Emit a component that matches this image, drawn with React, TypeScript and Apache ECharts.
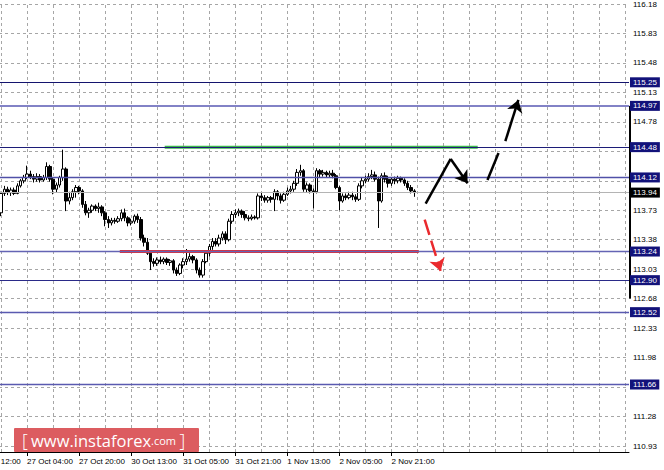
import React, { useEffect, useRef } from "react";
import * as echarts from "echarts";

// ---- data ----
const firstBar = 8; // category index of the first visible candle
const opens = [
  113.70, 113.93, 113.98, 113.94, 113.97, 113.93, 114.02, 114.08, 114.12, 114.16,
  114.13, 114.10, 114.13, 114.09, 114.12, 114.25, 114.10, 113.98, 114.03, 114.12,
  114.22, 113.84, 113.88, 113.95, 114.00, 113.96, 113.80, 113.70, 113.73, 113.78,
  113.75, 113.77, 113.70, 113.62, 113.58, 113.61, 113.60, 113.63, 113.70, 113.64,
  113.58, 113.60, 113.66, 113.62, 113.40, 113.35, 113.22, 113.12, 113.10, 113.14,
  113.12, 113.15, 113.11, 113.13, 113.02, 112.98, 113.08, 113.12, 113.15, 113.18,
  113.14, 113.02, 112.96, 113.12, 113.22, 113.30, 113.36, 113.33, 113.40, 113.45,
  113.38, 113.60, 113.68, 113.70, 113.72, 113.68, 113.64, 113.63, 113.65, 113.64,
  113.90, 113.88, 113.85, 113.88, 113.86, 113.95, 113.90, 113.85, 113.92, 113.96,
  113.98, 114.05, 114.18, 114.20, 113.98, 114.03, 113.96, 113.95, 114.20, 114.16,
  114.18, 114.15, 114.17, 114.14, 114.00, 113.84, 113.90, 113.88, 113.91, 113.89,
  113.86, 114.02, 114.08, 114.10, 114.13, 114.15, 114.10, 113.84, 114.14, 114.10,
  114.05, 114.10, 114.08, 114.11, 114.09, 114.05, 114.00, 113.96,
];
const highs = [
  113.95, 114.02, 114.01, 114.00, 114.00, 114.05, 114.10, 114.15, 114.26, 114.20,
  114.16, 114.17, 114.16, 114.15, 114.30, 114.27, 114.12, 114.06, 114.14, 114.45,
  114.24, 113.95, 113.98, 114.03, 114.02, 113.98, 113.84, 113.76, 113.80, 113.80,
  113.82, 113.79, 113.72, 113.66, 113.64, 113.64, 113.66, 113.74, 113.75, 113.66,
  113.63, 113.68, 113.69, 113.65, 113.44, 113.40, 113.24, 113.16, 113.17, 113.18,
  113.17, 113.17, 113.15, 113.15, 113.05, 113.10, 113.16, 113.27, 113.22, 113.20,
  113.16, 113.05, 113.15, 113.25, 113.33, 113.40, 113.40, 113.44, 113.48, 113.48,
  113.63, 113.72, 113.74, 113.75, 113.74, 113.72, 113.67, 113.68, 113.67, 113.93,
  113.94, 113.91, 113.90, 113.90, 113.98, 113.97, 113.93, 113.95, 114.00, 114.02,
  114.08, 114.22, 114.27, 114.22, 114.06, 114.05, 113.99, 114.23, 114.22, 114.21,
  114.20, 114.20, 114.21, 114.16, 114.02, 113.93, 113.93, 113.95, 113.95, 113.92,
  114.05, 114.12, 114.14, 114.17, 114.21, 114.19, 114.13, 114.17, 114.18, 114.14,
  114.12, 114.13, 114.14, 114.13, 114.11, 114.08, 114.03, 113.98,
];
const lows = [
  113.66, 113.90, 113.91, 113.90, 113.91, 113.92, 114.00, 114.05, 114.10, 114.10,
  114.06, 114.07, 114.06, 114.07, 114.09, 114.07, 113.92, 113.94, 114.00, 114.08,
  113.72, 113.80, 113.85, 113.88, 113.92, 113.76, 113.67, 113.64, 113.70, 113.72,
  113.70, 113.66, 113.54, 113.52, 113.55, 113.57, 113.58, 113.60, 113.60, 113.54,
  113.55, 113.57, 113.58, 113.37, 113.30, 113.20, 113.02, 113.06, 113.07, 113.09,
  113.09, 113.08, 113.07, 112.98, 112.95, 112.96, 113.04, 113.08, 113.12, 113.10,
  112.98, 112.93, 112.93, 113.10, 113.18, 113.26, 113.30, 113.30, 113.37, 113.33,
  113.36, 113.57, 113.64, 113.66, 113.64, 113.61, 113.60, 113.61, 113.62, 113.62,
  113.84, 113.82, 113.82, 113.82, 113.72, 113.85, 113.81, 113.83, 113.90, 113.93,
  113.95, 114.02, 114.14, 113.95, 113.94, 113.93, 113.75, 113.93, 114.12, 114.13,
  114.12, 114.12, 114.11, 113.98, 113.73, 113.82, 113.85, 113.86, 113.85, 113.83,
  113.84, 113.99, 114.05, 114.07, 114.10, 114.07, 113.52, 113.82, 114.06, 114.00,
  114.02, 114.04, 114.05, 114.06, 114.02, 113.97, 113.93, 113.89,
];
const closes = [
  113.93, 113.98, 113.94, 113.97, 113.93, 114.02, 114.08, 114.12, 114.16, 114.13,
  114.10, 114.13, 114.09, 114.12, 114.25, 114.10, 113.98, 114.03, 114.12, 114.22,
  113.84, 113.88, 113.95, 114.00, 113.96, 113.80, 113.70, 113.73, 113.78, 113.75,
  113.77, 113.70, 113.62, 113.58, 113.61, 113.60, 113.63, 113.70, 113.64, 113.58,
  113.60, 113.66, 113.62, 113.40, 113.35, 113.22, 113.12, 113.10, 113.14, 113.12,
  113.15, 113.11, 113.13, 113.02, 112.98, 113.08, 113.12, 113.15, 113.18, 113.14,
  113.02, 112.96, 113.12, 113.22, 113.30, 113.36, 113.33, 113.40, 113.45, 113.38,
  113.60, 113.68, 113.70, 113.72, 113.68, 113.64, 113.63, 113.65, 113.64, 113.90,
  113.88, 113.85, 113.88, 113.86, 113.95, 113.90, 113.85, 113.92, 113.96, 113.98,
  114.05, 114.18, 114.20, 113.98, 114.03, 113.96, 113.95, 114.20, 114.16, 114.18,
  114.15, 114.17, 114.14, 114.00, 113.84, 113.90, 113.88, 113.91, 113.89, 113.86,
  114.02, 114.08, 114.10, 114.13, 114.15, 114.10, 113.84, 114.14, 114.10, 114.05,
  114.10, 114.08, 114.11, 114.09, 114.05, 114.00, 113.96, 113.94,
];

// grid lines every 0.35; labels that sit under a level box are left out
const gridValues = [
  110.93, 111.28, 111.63, 111.98, 112.33, 112.68, 113.03, 113.38,
  113.73, 114.08, 114.43, 114.78, 115.13, 115.48, 115.83, 116.18,
];
const tickLabelValues = [
  110.93, 111.28, 111.98, 112.33, 112.68, 113.03, 113.38,
  113.73, 114.78, 115.13, 115.48, 115.83, 116.18,
];
const yMin = 110.859;
const yMax = 116.196;
const levelValues = [115.25, 114.97, 114.48, 114.12, 113.24, 112.9, 112.52, 111.66];
const currentPrice = 113.94;
const resistanceLine = [[58.3, 114.48], [154.5, 114.48]];
const supportLine = [[44.5, 113.24], [136.4, 113.24]];
const scaleBar = [[201.46, 112.68], [201.46, 114.97]];
const blackPlain = [
  [[138.5, 113.81], [146.2, 114.34]],
  [[157.5, 114.09], [160.9, 114.41]],
];
const blackArrows = [
  [[146.2, 114.34], [151.4, 114.05]],
  [[163.0, 114.55], [167.0, 115.04]],
];
const redArrows = [[[138.2, 113.62], [143.1, 113.01]]];

// ---- categories (hourly bars, weekend skipped) ----
const totalCats = 202;
const months = ["Jan", "Feb", "Mar", "Apr", "May", "Jun", "Jul", "Aug", "Sep", "Oct", "Nov", "Dec"];
const categories: string[] = [];
{
  let t = Date.UTC(2017, 9, 26, 12);
  for (let i = 0; i < totalCats; i++) {
    const d = new Date(t);
    const hh = String(d.getUTCHours()).padStart(2, "0");
    categories.push(`${d.getUTCDate()} ${months[d.getUTCMonth()]} ${hh}:00`);
    t += 3600000;
    const nd = new Date(t);
    if (nd.getUTCDay() === 6 && nd.getUTCHours() === 0) t += 49 * 3600000;
  }
}
const lastBar = firstBar + closes.length - 1;
// vertical grid every 8 bars
const gridBars: number[] = [];
for (let i = 8; i < totalCats - 1; i += 8) gridBars.push(i);

// styles
const levelColors = ["#14146e", "#8282c6", "#1c1c78", "#5050a8", "#6464b4", "#2a2a88", "#5a5ab0", "#5a5ab0"];
const levelWidths = [1, 2, 1, 1.3, 1.3, 1, 1.3, 1.3];
const FONT = "Liberation Sans";
const SHIFT = 28; // chart canvas starts left of the page so the first bars are cut off
const GRID_COLOR = "#a6a6a6";

export default function App() {
  const ref = useRef<HTMLDivElement>(null);
  useEffect(() => {
    if (!ref.current) return;
    const chart = echarts.init(ref.current, undefined, { renderer: "svg" });
    const candles = closes.map((c, k) => [firstBar + k, opens[k], c, lows[k], highs[k]]);
    const labelBox = (bg: string) => ({
      show: true,
      position: "end",
      distance: 1,
      formatter: (p: any) => Number(p.value).toFixed(2),
      color: "#ffffff",
      backgroundColor: bg,
      fontFamily: FONT,
      fontSize: 8,
      lineHeight: 9,
      padding: [1, 3, 0, 3],
    });
    const markData: any[] = levelValues.map((v, k) => ({
      yAxis: v,
      lineStyle: { color: levelColors[k], width: levelWidths[k], type: "solid" },
      label: labelBox("#12127a"),
    }));
    markData.unshift({
      yAxis: currentPrice,
      lineStyle: { color: "#b4b4b4", width: 1, type: "solid" },
      label: labelBox("#000000"),
    });
    const option: any = {
      animation: false,
      grid: { left: 0, right: 35, top: 0, bottom: 18, containLabel: false },
      xAxis: [
        {
          type: "category",
          data: categories,
          boundaryGap: false,
          axisLine: { show: true, lineStyle: { color: "#000", width: 1 } },
          axisTick: {
            show: true,
            length: 4,
            interval: (i: number) => i % 16 === 0 && i <= lastBar,
            lineStyle: { color: "#000" },
          },
          axisLabel: {
            interval: (i: number) => i % 16 === 0 && i <= lastBar,
            align: "left",
            margin: 5,
            fontSize: 8,
            fontFamily: FONT,
            color: "#000",
          },
          splitLine: { show: false },
        },
        { type: "value", min: 0, max: totalCats - 1, show: false },
      ],
      yAxis: {
        type: "value",
        position: "right",
        min: yMin,
        max: yMax,
        axisLine: { show: true, lineStyle: { color: "#000", width: 1 } },
        axisTick: { show: true, length: 3, customValues: gridValues, lineStyle: { color: "#000" } },
        axisLabel: {
          customValues: tickLabelValues,
          formatter: (v: number) => v.toFixed(2),
          margin: 4,
          fontSize: 8,
          fontFamily: FONT,
          color: "#000",
        },
        splitLine: { show: true, lineStyle: { color: GRID_COLOR, type: [3, 3], width: 1 } },
      },
      series: [
        {
          type: "lines",
          coordinateSystem: "cartesian2d",
          xAxisIndex: 1,
          data: gridBars.map((b) => ({ coords: [[b, yMin], [b, yMax]] })),
          symbol: ["none", "none"],
          silent: true,
          lineStyle: { color: GRID_COLOR, width: 1, type: [3, 3], opacity: 1 },
          z: 1,
        },
        {
          type: "candlestick",
          xAxisIndex: 0,
          data: candles,
          encode: { x: 0, y: [1, 2, 3, 4] },
          barWidth: 3,
          itemStyle: {
            color: "#ffffff",
            color0: "#000000",
            borderColor: "#000000",
            borderColor0: "#000000",
            borderWidth: 1,
          },
          markLine: { silent: true, symbol: "none", precision: 2, data: markData },
          z: 3,
        },
        {
          type: "line",
          xAxisIndex: 1,
          data: resistanceLine,
          symbol: "none",
          lineStyle: { color: "#3cb84a", width: 3 },
          z: 4,
        },
        {
          type: "line",
          xAxisIndex: 1,
          data: supportLine,
          symbol: "none",
          lineStyle: { color: "#ea2a2e", width: 3 },
          z: 4,
        },
        {
          type: "line",
          xAxisIndex: 1,
          data: scaleBar,
          symbol: "none",
          clip: false,
          lineStyle: { color: "#000", width: 3 },
          z: 4,
        },
        {
          type: "lines",
          coordinateSystem: "cartesian2d",
          xAxisIndex: 1,
          data: blackPlain.map((c) => ({ coords: c })),
          symbol: ["none", "none"],
          lineStyle: { color: "#000", width: 2.5, opacity: 1 },
          z: 5,
        },
        {
          type: "lines",
          coordinateSystem: "cartesian2d",
          xAxisIndex: 1,
          data: blackArrows.map((c) => ({ coords: c })),
          symbol: ["none", "arrow"],
          symbolSize: 12,
          lineStyle: { color: "#000", width: 2.5, opacity: 1 },
          z: 5,
        },
        {
          type: "lines",
          coordinateSystem: "cartesian2d",
          xAxisIndex: 1,
          data: redArrows.map((c) => ({ coords: c })),
          symbol: ["none", "arrow"],
          symbolSize: 12,
          lineStyle: { color: "#ea2a2e", width: 2.5, type: [16, 6], opacity: 1 },
          z: 5,
        },
      ],
      graphic: [
        {
          type: "rect",
          shape: { x: 14 + SHIFT, y: 428, width: 185, height: 24, r: 1 },
          style: { fill: "#dc5c60" },
          z: 100,
        },
        {
          type: "text",
          x: 22 + SHIFT,
          y: 440,
          z: 101,
          style: {
            text: "{b|[} {w|www.instaforex}{c|.com} {b|]}",
            verticalAlign: "middle",
            fill: "#ffffff",
            rich: {
              b: { fontSize: 18, fontFamily: "Open Sans", fill: "#ffffff", fontWeight: 300 },
              w: { fontSize: 16.5, fontFamily: "Open Sans", fill: "#ffffff" },
              c: { fontSize: 11, fontFamily: "Open Sans", fill: "#ffffff" },
            },
          },
        },
      ],
    };
    chart.setOption(option);
    return () => chart.dispose();
  }, []);
  return (
    <div
      ref={ref}
      style={{
        position: "fixed",
        left: -SHIFT,
        top: 0,
        width: 664 + SHIFT,
        height: 470,
        background: "#ffffff",
      }}
    />
  );
}
